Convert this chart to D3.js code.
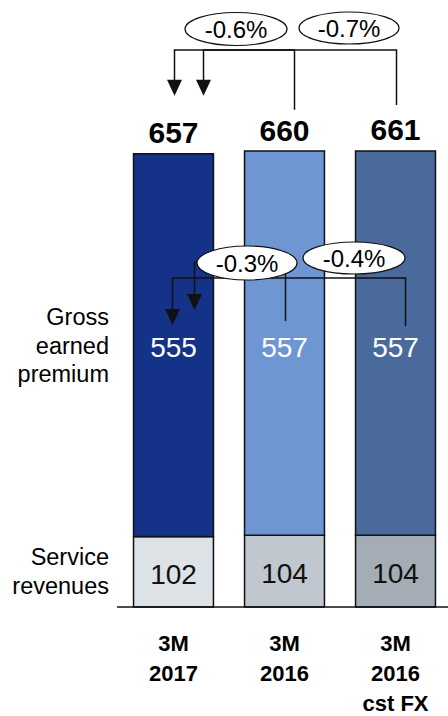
<!DOCTYPE html>
<html>
  <head>
    <meta charset="UTF-8">
    <title>Revenues</title>
    <style>
    html, body {
      margin: 0;
      background-color: white;
    }
    svg {
      display: block;
      font-family: 'Liberation Sans', Arial, sans-serif;
    }
    </style>
  </head>
  <body>
  <script src="https://d3js.org/d3.v7.min.js"></script>
  <script>
  // Data
  var categories = ['3M 2017', '3M 2016', '3M 2016 cst FX'];
  var categoryLines = [['3M', '2017'], ['3M', '2016'], ['3M', '2016', 'cst FX']];
  var grossEarned = [555, 557, 557];
  var serviceRevenues = [102, 104, 104];
  var totals = [657, 660, 661];
  var seriesNames = [['Gross', 'earned', 'premium'], ['Service', 'revenues']];
  // Changes: [from bar, to bar, label]
  var totalChanges = [[1, 0, '-0.6%'], [2, 0, '-0.7%']];
  var gepChanges = [[1, 0, '-0.3%'], [2, 0, '-0.4%']];

  var gepColors = ['#143287', '#6e96d2', '#4b6a9c'];
  var serviceColors = ['#dde2e6', '#c0c7cf', '#a4adb6'];

  var width = 448, height = 716;
  var svg = d3.select('body').append('svg').attr('width', width).attr('height', height);

  var x = d3.scaleBand().domain(categories).range([118, 451]).paddingInner(0.28).paddingOuter(0.14);
  var y = d3.scaleLinear().domain([0, 661]).range([607, 151]);
  var bw = x.bandwidth();
  function cx(i) { return x(categories[i]) + bw / 2; }

  // Bars
  var bars = svg.append('g');
  bars.selectAll('rect.service')
    .data(serviceRevenues)
    .enter().append('rect')
    .attr('class', 'service')
    .attr('x', function (d, i) { return x(categories[i]); })
    .attr('width', bw)
    .attr('y', function (d) { return y(d); })
    .attr('height', function (d) { return y(0) - y(d); })
    .attr('fill', function (d, i) { return serviceColors[i]; })
    .attr('stroke', '#111').attr('stroke-width', 1.5);
  bars.selectAll('rect.gep')
    .data(grossEarned)
    .enter().append('rect')
    .attr('class', 'gep')
    .attr('x', function (d, i) { return x(categories[i]); })
    .attr('width', bw)
    .attr('y', function (d, i) { return y(d + serviceRevenues[i]); })
    .attr('height', function (d) { return y(0) - y(d); })
    .attr('fill', function (d, i) { return gepColors[i]; })
    .attr('stroke', '#111').attr('stroke-width', 1.5);

  // Baseline
  svg.append('line')
    .attr('x1', 117).attr('x2', width)
    .attr('y1', y(0)).attr('y2', y(0))
    .attr('stroke', '#111').attr('stroke-width', 1.5);

  // Value labels
  svg.selectAll('text.total')
    .data(totals)
    .enter().append('text')
    .attr('x', function (d, i) { return cx(i); })
    .attr('y', function (d) { return y(d) - 11; })
    .attr('text-anchor', 'middle')
    .style('font-size', '30px').style('font-weight', 'bold')
    .text(function (d) { return d; });
  svg.selectAll('text.gep')
    .data(grossEarned)
    .enter().append('text')
    .attr('x', function (d, i) { return cx(i); })
    .attr('y', 357)
    .attr('text-anchor', 'middle')
    .attr('fill', 'white')
    .style('font-size', '28px')
    .text(function (d) { return d; });
  svg.selectAll('text.service')
    .data(serviceRevenues)
    .enter().append('text')
    .attr('x', function (d, i) { return cx(i); })
    .attr('y', function (d) { return y(d / 2) + 12; })
    .attr('text-anchor', 'middle')
    .attr('fill', '#111')
    .style('font-size', '28px')
    .text(function (d) { return d; });

  // Series names on the left
  var nameY = [325, 565];
  seriesNames.forEach(function (lines, k) {
    var t = svg.append('text')
      .attr('text-anchor', 'end')
      .style('font-size', '23.5px');
    lines.forEach(function (l, j) {
      t.append('tspan').attr('x', 109).attr('y', nameY[k] + j * 28.5).text(l);
    });
  });

  // Category labels
  categoryLines.forEach(function (lines, i) {
    var t = svg.append('text')
      .attr('text-anchor', 'middle')
      .style('font-size', '22px').style('font-weight', 'bold');
    lines.forEach(function (l, j) {
      t.append('tspan').attr('x', cx(i)).attr('y', 651 + j * 30).text(l);
    });
  });

  // Arrows
  function arrowHead(g, ax, tipY) {
    g.append('path')
      .attr('d', 'M' + (ax - 7.5) + ',' + (tipY - 16) + 'L' + (ax + 7.5) + ',' + (tipY - 16) + 'L' + ax + ',' + tipY + 'Z')
      .attr('fill', '#111');
  }
  function bracket(g, x1, y1, lineY, x2, tipY) {
    g.append('path')
      .attr('d', 'M' + x1 + ',' + y1 + 'V' + lineY + 'H' + x2 + 'V' + (tipY - 15))
      .attr('fill', 'none').attr('stroke', '#111').attr('stroke-width', 1.5);
    arrowHead(g, x2, tipY);
  }
  function bubble(g, ex, ey, rx, ry, label) {
    g.append('ellipse')
      .attr('cx', ex).attr('cy', ey).attr('rx', rx).attr('ry', ry)
      .attr('fill', 'white').attr('stroke', '#111').attr('stroke-width', 1.2);
    g.append('text')
      .attr('x', ex).attr('y', ey + 8.5)
      .attr('text-anchor', 'middle')
      .style('font-size', '24px')
      .text(label);
  }

  // Top brackets (totals)
  var topG = svg.append('g');
  var topLine = y(totals[2]) - 101;
  var topFrom = [cx(1) + 10, cx(2) + 1];
  var topTo = [cx(0) + 30, cx(0) + 1];
  var topEnds = [y(totals[1]) - 42, y(totals[2]) - 46];
  totalChanges.forEach(function (c, k) {
    bracket(topG, topFrom[k], topEnds[k], topLine, topTo[k], y(totals[0]) - 58);
  });
  bubble(topG, (cx(0) + cx(1)) / 2 + 7, topLine - 21, 51, 16.5, totalChanges[0][2]);
  bubble(topG, (cx(1) + cx(2)) / 2 + 9, topLine - 22, 50, 16, totalChanges[1][2]);

  // Gross earned premium brackets
  var midG = svg.append('g');
  var midEnds = [y(serviceRevenues[1] + grossEarned[1]) + 170, y(serviceRevenues[2] + grossEarned[2]) + 175];
  var midLines = [262, 278];
  var midFrom = [cx(1) + 1, cx(2) + 10];
  var midTo = [cx(0) + 21, cx(0) - 1];
  var midTips = [310, 325];
  gepChanges.forEach(function (c, k) {
    bracket(midG, midFrom[k], midEnds[k], midLines[k], midTo[k], midTips[k]);
  });
  bubble(midG, (cx(0) + cx(1)) / 2 + 18, 263, 50, 17, gepChanges[0][2]);
  bubble(midG, (cx(1) + cx(2)) / 2 + 14, 258, 51, 16, gepChanges[1][2]);
  </script>
  </body>
</html>
